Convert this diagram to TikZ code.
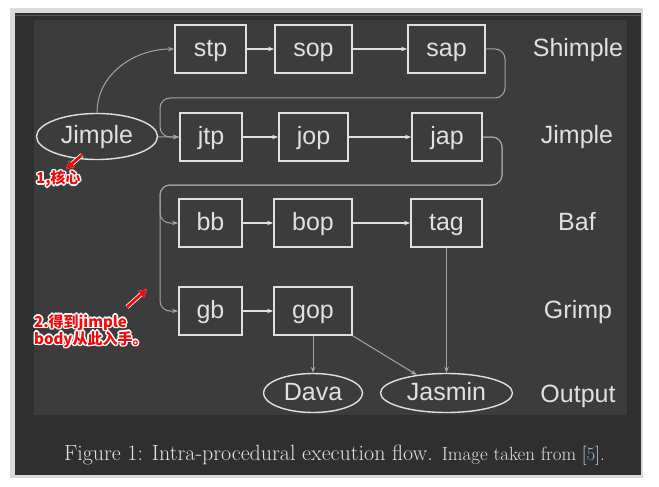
\documentclass[tikz,border=0pt]{standalone}
\usepackage{fontspec}
\setsansfont{Liberation Sans}
\newfontfamily\cjk{Noto Sans CJK SC}
\usetikzlibrary{shapes.geometric,arrows.meta}
\definecolor{panel}{HTML}{3C3C3C}
\definecolor{frame}{HTML}{2F2F2F}
\definecolor{seam}{HTML}{565656}
\definecolor{rim}{HTML}{DDD9D7}
\definecolor{ink}{HTML}{E0E0E0}
\definecolor{wire}{HTML}{A4A4A4}
\definecolor{capink}{HTML}{DDE3E4}
\definecolor{refblue}{HTML}{8FB4E0}
\definecolor{alertred}{HTML}{F00A0A}
\tikzset{
    stage/.style={
        draw=ink,
        line width=1.8pt,
        rectangle,
        inner sep=0pt,
        minimum height=48pt,
        text=ink,
        font=\sffamily\fontsize{25}{30}\selectfont,
        text height=19pt,
        text depth=4.5pt
    },
    oval/.style={
        draw=ink,
        line width=1.4pt,
        ellipse,
        inner sep=0pt,
        text=ink,
        font=\sffamily\fontsize{25}{30}\selectfont,
        text height=19pt,
        text depth=4.5pt
    },
    rowlabel/.style={
        anchor=base,
        text=ink,
        inner sep=0pt,
        font=\sffamily\fontsize{25}{30}\selectfont
    },
    feed/.style={
        draw=ink,
        line width=1.3pt,
        -{Stealth[length=6pt,width=4.5pt]}
    },
    link/.style={
        draw=wire,
        line width=1pt,
        -{Stealth[length=6pt,width=4.5pt]}
    },
    notetext/.style={
        anchor=west,
        inner sep=0pt,
        align=left,
        font=\cjk\bfseries\fontsize{15}{14.5}\selectfont
    },
    pointer/.style={
        line width=2.8pt,
        -{Triangle[length=8pt,width=8pt]}
    }
}
% red remark with a white halo round it
\newcommand{\remark}[4]{
    \foreach \dx/\dy in {-1.6/0,1.6/0,0/-1.6,0/1.6,-1.1/-1.1,1.1/1.1,-1.1/1.1,1.1/-1.1}
        \node[notetext,text=white] at ({#2+\dx}, {#3+\dy}) {#4};
    \node[notetext,text=alertred] (#1) at (#2, #3) {#4};
}

\begin{document}
\begin{tikzpicture}[x=1pt,y=-1pt]
    \useasboundingbox (0,0) rectangle (659,487);
    % page, frame and panel
    \fill[white] (0,0) rectangle (659,487);
    \fill[rim] (10,8) rectangle (643,478);
    \fill[frame] (15,13) rectangle (641,475);
    \draw[seam, line width=1.2pt] (15,15.5) -- (641,15.5);
    \fill[panel] (34,20) rectangle (627,415);

    % Shimple row
    \node[stage,minimum width=71pt] (stp) at (210.5,49) {stp};
    \node[stage,minimum width=77pt] (sop) at (313.5,49) {sop};
    \node[stage,minimum width=77pt] (sap) at (446.5,49) {sap};
    % Jimple row
    \node[oval,minimum width=121pt,minimum height=46pt] (jimple) at (97,136.5) {Jimple};
    \node[stage,minimum width=62pt] (jtp) at (211,137) {jtp};
    \node[stage,minimum width=69pt] (jop) at (313.5,137) {jop};
    \node[stage,minimum width=70pt] (jap) at (447,137) {jap};
    % Baf row
    \node[stage,minimum width=63pt] (bb) at (210.5,223) {bb};
    \node[stage,minimum width=78pt] (bop) at (313,223) {bop};
    \node[stage,minimum width=71pt] (tag) at (446.5,223) {tag};
    % Grimp row
    \node[stage,minimum width=63pt] (gb) at (210.5,311) {gb};
    \node[stage,minimum width=78pt] (gop) at (313,311) {gop};
    % Output row
    \node[oval,minimum width=99pt,minimum height=39pt] (dava) at (313,393) {Dava};
    \node[oval,minimum width=132pt,minimum height=39pt] (jasmin) at (446.5,393) {Jasmin};

    % labels on the right
    \node[rowlabel] (lshimple) at (578,57) {Shimple};
    \node[rowlabel] (ljimple) at (577,143) {Jimple};
    \node[rowlabel] (lbaf) at (577,230) {Baf};
    \node[rowlabel] (lgrimp) at (578,318) {Grimp};
    \node[rowlabel] (loutput) at (578,402) {Output};

    % rails of the loops
    \coordinate (rs) at (505,98);
    \coordinate (ls) at (160,98);
    \coordinate (rj) at (502,185);
    \coordinate (lj) at (160,185);

    \draw[link] (jimple.north) to[out=90,in=180] (stp.west);
    \draw[feed] (stp) -- (sop);
    \draw[feed] (sop) -- (sap);
    \draw[link,rounded corners=10pt] (sap.east) -| (rs) -- (ls) |- (jtp.west);
    \draw[link] (jimple) -- (jtp);
    \draw[feed] (jtp) -- (jop);
    \draw[feed] (jop) -- (jap);
    \draw[link,rounded corners=10pt] (jap.east) -| (rj) -- (lj) |- (bb.west);
    \draw[link,rounded corners=10pt] (jap.east) -| (rj) -- (lj) |- (gb.west);
    \draw[feed] (bb) -- (bop);
    \draw[feed] (bop) -- (tag);
    \draw[feed] (gb) -- (gop);
    \draw[link] (tag) -- (jasmin);
    \draw[link] (gop) -- (dava);
    \draw[link] (gop.south east) -- (jasmin);

    % remarks
    \remark{core}{36}{179}{1,核心}
    \remark{entry}{34}{331}{2.得到jimple\\body从此入手。}
    \coordinate (p1) at (82,155);
    \coordinate (q1) at (66,169);
    \coordinate (p2) at (127,307);
    \coordinate (q2) at (147,289);
    \draw[pointer,white,line width=4.4pt] (p1) -- (q1);
    \draw[pointer,alertred] (p1) -- (q1);
    \draw[pointer,white,line width=4.4pt] (p2) -- (q2);
    \draw[pointer,alertred] (p2) -- (q2);

    % caption
    \node[anchor=base,inner sep=0pt,text=capink] (caption) at (334.5,460)
        {\fontsize{22}{26}\selectfont Figure 1: Intra-procedural execution flow.
         \fontsize{19}{23}\selectfont Image taken from [\textcolor{refblue}{5}].};
\end{tikzpicture}
\end{document}
